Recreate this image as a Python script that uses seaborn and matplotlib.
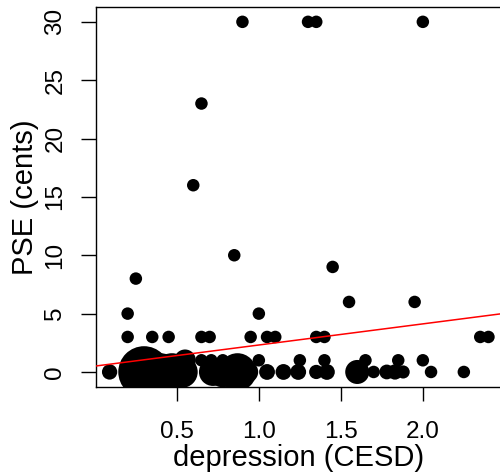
import numpy as np
import pandas as pd
import matplotlib
matplotlib.use("Agg")
import matplotlib.pyplot as plt
import seaborn as sns

# ---- data ----
x_vals = [0.90, 1.30, 1.35, 2.00, 0.65, 0.60, 0.85, 0.25, 1.45, 0.20, 1.00, 1.55, 1.95,
          0.20, 0.35, 0.45, 0.65, 0.70, 0.95, 1.05, 1.10, 1.35, 1.40, 2.35, 2.40,
          0.65, 0.71, 0.78, 1.00, 1.25, 1.40, 1.65, 1.85, 2.00,
          0.09, 0.30, 0.40, 0.47, 0.53, 0.55, 0.72, 0.78, 0.87, 0.93,
          1.05, 1.15, 1.24, 1.35, 1.415, 1.60, 1.70, 1.78, 1.83, 1.88, 2.05, 2.25]
y_vals = [30, 30, 30, 30, 23, 16, 10, 8, 9, 5, 5, 6, 6,
          3, 3, 3, 3, 3, 3, 3, 3, 3, 3, 3, 3,
          1, 1, 1, 1, 1, 1, 1, 1, 1,
          0, 0, 0, 0, 0, 1, 0, 0, 0, 0,
          0, 0, 0, 0, 0, 0, 0, 0, 0, 0, 0, 0]
weights = [1, 1, 1, 1, 1, 1, 1, 1, 1, 1, 1, 1, 1,
           1, 1, 1, 1, 1, 1, 1, 1, 1, 1, 1, 1,
           1, 1, 1, 1, 1, 1, 1, 1, 1,
           1.5, 17, 9, 9, 6.5, 3, 5, 6, 9, 3,
           1.6, 1.6, 1.6, 1.3, 1.6, 3.7, 1, 1.4, 1.5, 1.1, 1, 1]
fit_intercept = 0.50
fit_slope = 1.81

x_ticks = [0.5, 1.0, 1.5, 2.0]
y_ticks = [0, 5, 10, 15, 20, 25, 30]

df = pd.DataFrame({"x": x_vals, "y": y_vals, "w": weights})

sns.set_style("ticks")
plt.rcParams["font.family"] = ["Liberation Sans", "DejaVu Sans"]
plt.rcParams["text.color"] = "black"
plt.rcParams["axes.labelcolor"] = "black"

fig = plt.figure(figsize=(5, 4.74), dpi=100)
ax = fig.add_axes([0.192, 0.1835, 0.8144, 0.8017])

s1 = 81.0
wmin, wmax = min(weights), max(weights)
sns.scatterplot(data=df, x="x", y="y", size="w", sizes=(s1 * wmin, s1 * wmax),
                size_norm=(wmin, wmax), color="black", linewidth=0, legend=False,
                ax=ax, zorder=2)
ax.axline((0, fit_intercept), slope=fit_slope, color="red", lw=1.1, zorder=3)

ax.set_xlim(0.007, 2.49)
ax.set_ylim(-1.29, 31.27)
ax.set_xticks(x_ticks)
ax.set_xticklabels(["0.5", "1.0", "1.5", "2.0"])
ax.set_yticks(y_ticks)
ax.set_yticklabels([str(v) for v in y_ticks], rotation=90, va="center")

for sp in ax.spines.values():
    sp.set_visible(True)
    sp.set_linewidth(1.0)
    sp.set_color("black")

ax.tick_params(axis="x", direction="out", length=10, width=1.0, pad=14.8,
               labelsize=17.5, color="black", labelcolor="black")
ax.tick_params(axis="y", direction="out", length=10.8, width=1.0, pad=10.5,
               labelsize=17.5, color="black", labelcolor="black")

ax.set_xlabel("depression (CESD)", fontsize=21, color="black")
ax.set_ylabel("PSE (cents)", fontsize=21, color="black")
ax.xaxis.set_label_coords(0.497, -0.150)
ax.yaxis.set_label_coords(-0.141, 0.5)

fig.savefig("out.png", dpi=100)
